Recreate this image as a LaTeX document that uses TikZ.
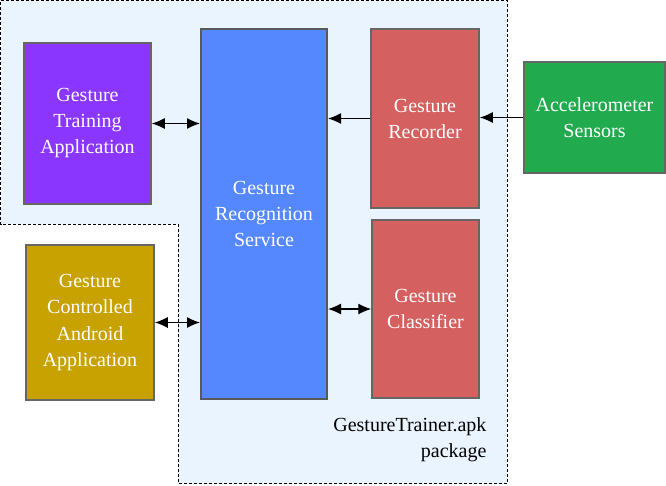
\documentclass[tikz,border=0pt]{standalone}
\usepackage{fontspec}
\setmainfont{Liberation Serif}
\usepackage{xcolor}
\usetikzlibrary{arrows.meta}

\definecolor{pkgbg}{HTML}{EAF4FE}
\definecolor{trainpurple}{HTML}{8A36FF}
\definecolor{servblue}{HTML}{5588FF}
\definecolor{recred}{HTML}{D46060}
\definecolor{accgreen}{HTML}{22AA4F}
\definecolor{andrgold}{HTML}{C8A200}

\begin{document}
\begin{tikzpicture}[x=1pt,y=-1pt,
    box/.style={draw=black!60,line width=1.5,text=white,align=center,
      inner sep=0pt,font=\fontsize{20}{26}\selectfont},
    link/.style={line width=1.3pt,{Latex[length=13pt,width=11pt]}-{Latex[length=13pt,width=11pt]}},
    flow/.style={line width=1.3pt,-{Latex[length=13pt,width=11pt]}}]

    \useasboundingbox (0,0) rectangle (666,485);

    % package area
    \filldraw[draw=black,line width=1,fill=pkgbg,dash pattern=on 3pt off 2pt]
    (0.5,0.5) -- (507,0.5) -- (507,483.5) -- (178,483.5)
    -- (178,224) -- (0.5,224) -- cycle;

    \node[box,fill=trainpurple,minimum width=127,minimum height=161]
    (train) at (87.5,123.5) {Gesture\\Training\\Application};

    \node[box,fill=servblue,draw=black!65,line width=2,
      minimum width=126,minimum height=370]
    (serv) at (264,214) {Gesture\\Recognition\\Service};

    \node[box,fill=recred,minimum width=108,minimum height=179]
    (rec) at (425,118.5) {Gesture\\Recorder};

    \node[box,fill=recred,minimum width=107,minimum height=178]
    (cls) at (425.5,309) {Gesture\\Classifier};

    \node[box,fill=accgreen,minimum width=141,minimum height=111]
    (acc) at (594.5,117.5) {Accelerometer\\Sensors};

    \node[box,fill=andrgold,minimum width=128,minimum height=155]
    (andr) at (90,322.5) {Gesture\\Controlled\\Android\\Application};

    \node[align=right,anchor=east,font=\fontsize{20}{26}\selectfont]
    (pkg) at (490,440) {GestureTrainer.apk\\package};

    % connectors
    \draw[link] (train.east) -- (train.east -| serv.west);
    \draw[link] (andr.east) -- (andr.east -| serv.west);
    \draw[link] (cls.west -| serv.east) -- (cls.west);
    \draw[flow] (rec.west) -- (rec.west -| serv.east);
    \draw[flow] (acc.west) -- (acc.west -| rec.east);

\end{tikzpicture}
\end{document}
